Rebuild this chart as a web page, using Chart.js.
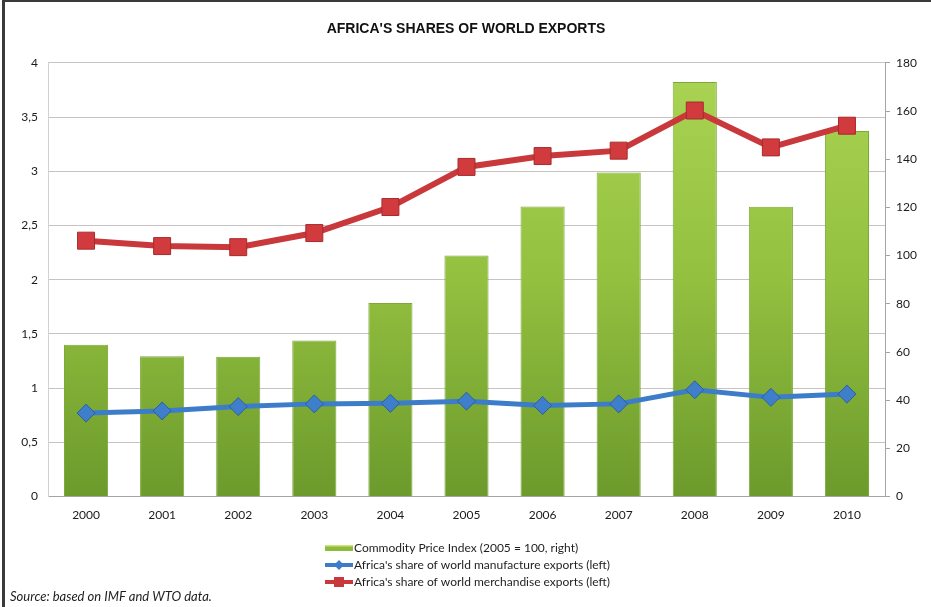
<!DOCTYPE html>
<html>
<head>
<meta charset="utf-8">
<title>Africa's shares of world exports</title>
<script src="https://cdn.jsdelivr.net/npm/chart.js@4.4.1/dist/chart.umd.min.js"></script>
<style>
    html, body { margin: 0; padding: 0; background: #fff; }
    .chart-box {
        position: relative;
        width: 931px;
        height: 607px;
        box-sizing: border-box;
        border-top: 2px solid #3a3a3a;
        border-left: 3px solid #3a3a3a;
        margin-left: 2px;
        overflow: hidden;
    }
    .chart-box canvas { position: absolute; left: -5px; top: -2px; }
</style>
</head>
<body>
<div class="chart-box">
    <canvas id="exportsChart" width="931" height="607"></canvas>
</div>

<script>
// Years on the x axis
const years = ['2000', '2001', '2002', '2003', '2004', '2005', '2006', '2007', '2008', '2009', '2010'];

// Commodity price index, 2005 = 100 (right axis)
const commodityIndex = [63, 58.2, 58, 64.8, 80.3, 100, 120.4, 134.5, 172, 120.3, 151.7];

// Africa's share of world manufacture exports, % (left axis)
const manufactureShare = [0.77, 0.79, 0.83, 0.855, 0.86, 0.88, 0.84, 0.855, 0.985, 0.915, 0.945];

// Africa's share of world merchandise exports, % (left axis)
const merchandiseShare = [2.36, 2.31, 2.30, 2.43, 2.67, 3.04, 3.14, 3.19, 3.56, 3.22, 3.42];

const legendLabels = [
    'Commodity Price Index (2005 = 100, right)',
    "Africa's share of world manufacture exports (left)",
    "Africa's share of world merchandise exports (left)"
];
const sourceNote = 'Source: based on IMF and WTO data.';

const labelFont = 'Lato, "Open Sans", sans-serif';
const gridColor = '#c9c2c2';

function barGradient(context) {
    const chart = context.chart;
    const area = chart.chartArea;
    if (!area) return '#8fbf3f';
    const g = chart.ctx.createLinearGradient(0, area.top, 0, area.bottom);
    g.addColorStop(0, '#abd454');
    g.addColorStop(0.5, '#93c03f');
    g.addColorStop(1, '#6c9a2c');
    return g;
}

// Legend block and source line below the axes
const bottomNotes = {
    id: 'bottomNotes',
    afterDraw(chart) {
        const ctx = chart.ctx;
        const x0 = 325, rows = [548, 565, 582];
        ctx.save();

        // green bar swatch with a lighter top edge
        ctx.fillStyle = '#8dbb3c';
        ctx.fillRect(x0, rows[0] - 3, 28, 6);
        ctx.fillStyle = '#cde47a';
        ctx.fillRect(x0, rows[0] - 3, 28, 1.5);

        // line swatches with their markers
        const lines = [
            { y: rows[1], color: '#3d7cc9', marker: 'diamond' },
            { y: rows[2], color: '#c9383b', marker: 'square' }
        ];
        lines.forEach(function (l) {
            ctx.strokeStyle = l.color;
            ctx.lineWidth = 4;
            ctx.beginPath();
            ctx.moveTo(x0, l.y);
            ctx.lineTo(x0 + 28, l.y);
            ctx.stroke();
            ctx.fillStyle = l.color;
            ctx.beginPath();
            if (l.marker === 'diamond') {
                ctx.moveTo(x0 + 14, l.y - 5);
                ctx.lineTo(x0 + 19, l.y);
                ctx.lineTo(x0 + 14, l.y + 5);
                ctx.lineTo(x0 + 9, l.y);
                ctx.closePath();
            } else {
                ctx.rect(x0 + 9, l.y - 5, 10, 10);
            }
            ctx.fill();
        });

        ctx.fillStyle = '#1e1e1e';
        ctx.font = '12px ' + labelFont;
        ctx.textBaseline = 'middle';
        ctx.textAlign = 'left';
        legendLabels.forEach(function (t, i) {
            ctx.fillText(t, x0 + 29, rows[i]);
        });

        ctx.font = 'italic 13px ' + labelFont;
        ctx.fillText(sourceNote, 10, 597);
        ctx.restore();
    }
};

function initChart() {
    const el = document.getElementById('exportsChart');

    new Chart(el, {
        data: {
            labels: years,
            datasets: [
                {
                    type: 'line',
                    label: legendLabels[2],
                    data: merchandiseShare,
                    yAxisID: 'yLeft',
                    borderColor: '#c9383b',
                    borderWidth: 6,
                    pointStyle: 'rect',
                    pointRadius: 12,
                    pointBackgroundColor: '#d23b3d',
                    pointBorderColor: '#a82a2d',
                    pointBorderWidth: 1,
                    tension: 0,
                    order: 1
                },
                {
                    type: 'line',
                    label: legendLabels[1],
                    data: manufactureShare,
                    yAxisID: 'yLeft',
                    borderColor: '#3d7cc9',
                    borderWidth: 5,
                    pointStyle: 'rectRot',
                    pointRadius: 9,
                    pointBackgroundColor: '#3f7ecb',
                    pointBorderColor: '#2a5f9f',
                    pointBorderWidth: 1,
                    tension: 0,
                    order: 2
                },
                {
                    type: 'bar',
                    label: legendLabels[0],
                    data: commodityIndex,
                    yAxisID: 'yRight',
                    backgroundColor: barGradient,
                    borderColor: '#7da83a',
                    borderWidth: 1,
                    categoryPercentage: 0.58,
                    barPercentage: 1,
                    order: 3
                }
            ]
        },
        options: {
            responsive: false,
            animation: false,
            events: [],
            layout: { padding: { left: 5, right: 4, top: 0, bottom: 74 } },
            plugins: {
                legend: { display: false },
                tooltip: { enabled: false },
                title: {
                    display: true,
                    text: "AFRICA'S SHARES OF WORLD EXPORTS",
                    color: '#111',
                    font: { family: '"Liberation Sans", Arial, sans-serif', size: 14, weight: 'bold' },
                    padding: { top: 21, bottom: 25 }
                }
            },
            scales: {
                x: {
                    grid: { display: false, drawTicks: false },
                    border: { color: '#a9a2a2' },
                    ticks: {
                        color: '#1a1a1a',
                        font: { family: labelFont, size: 12 },
                        padding: 11,
                        maxRotation: 0
                    }
                },
                yLeft: {
                    position: 'left',
                    min: 0,
                    max: 4,
                    ticks: {
                        stepSize: 0.5,
                        color: '#1a1a1a',
                        font: { family: labelFont, size: 12 },
                        padding: 10,
                        callback: function (v) { return String(v).replace('.', ','); }
                    },
                    grid: { color: gridColor, drawTicks: false },
                    border: { color: '#d6d0d0' },
                    afterFit: function (s) { s.width = 43; }
                },
                yRight: {
                    position: 'right',
                    min: 0,
                    max: 180,
                    ticks: {
                        stepSize: 20,
                        color: '#1a1a1a',
                        font: { family: labelFont, size: 12 },
                        padding: 6
                    },
                    grid: { drawOnChartArea: false, drawTicks: true, tickLength: 5, color: '#a9a2a2' },
                    border: { color: '#a9a2a2' },
                    afterFit: function (s) { s.width = 42; }
                }
            }
        },
        plugins: [bottomNotes]
    });
}

window.addEventListener('load', initChart);
</script>
</body>
</html>
